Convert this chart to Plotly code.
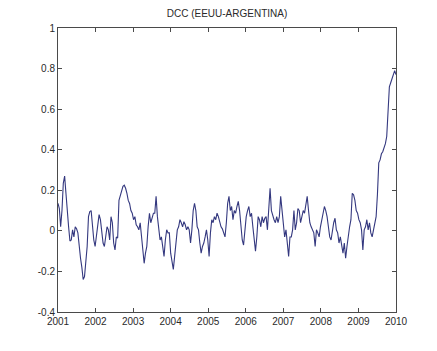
import pandas as pd
import plotly.graph_objects as go

title_text = "DCC (EEUU-ARGENTINA)"
start_date = "2001-01-01"
end_date = "2010-01-01"

# DCC values, roughly every two weeks
dcc_2001_2005 = [
    0.136, 0.11, 0.02, 0.10, 0.235, 0.27, 0.185, 0.087, 0.02, -0.05,
    -0.045, 0.005, -0.03, 0.02, 0.01, -0.01, -0.085, -0.135, -0.18, -0.24,
    -0.225, -0.16, -0.077, 0.07, 0.095, 0.10, 0.02, -0.045, -0.077, -0.03,
    0.02, 0.08, 0.055, 0.005, -0.06, -0.077, -0.03, 0.02, 0.005, -0.045,
    0.07, 0.04, -0.06, -0.094, -0.03, -0.035, 0.15, 0.17, 0.20, 0.22,
    0.225, 0.21, 0.185, 0.15, 0.135, 0.10, 0.087, 0.055, 0.07, 0.03,
    0.02, 0.005, 0.04, -0.03, -0.11, -0.16, -0.11, -0.077, 0.02, 0.087,
    0.04, 0.07, 0.087, 0.087, 0.17, 0.07, 0.005, -0.045, -0.03, -0.077,
    -0.126, -0.045, 0.005, -0.01, -0.01, -0.11, -0.16, -0.19, -0.126, -0.045,
    0.005, 0.02, 0.055, 0.04, 0.02, 0.045, 0.03, 0.005, 0.02, 0.005,
    -0.06, 0.005, 0.10, 0.136, 0.10, 0.02, 0.005, -0.06, -0.11, -0.077,
    -0.06, -0.03, 0.005, -0.045, -0.126, -0.01, 0.055, 0.04, 0.07, 0.055,
    0.087, 0.07, 0.04, 0.02, 0.01, -0.01, -0.03, 0.04, 0.136, 0.17,
    0.10, 0.12, 0.055, 0.10, 0.087, 0.12, 0.145,
]
dcc_2005_2010 = [
    0.10, 0.005, -0.045, -0.07, 0.02, 0.07, 0.10, 0.12, 0.07, 0.087,
    0.02, -0.045, -0.10, -0.03, 0.07, 0.055, 0.02, 0.07, 0.04, 0.062,
    0.07, 0.005, 0.087, 0.21, 0.10, 0.07, 0.055, 0.04, 0.07, 0.04,
    0.07, 0.17, 0.10, 0.04, -0.03, 0.005, -0.06, -0.126, -0.03, -0.03,
    0.005, 0.10, 0.005, 0.04, 0.11, 0.10, 0.04, 0.07, 0.10, 0.087,
    0.12, 0.17, 0.10, 0.04, 0.02, 0.005, -0.01, -0.077, 0.005, -0.01,
    -0.03, 0.02, 0.055, 0.087, 0.12, 0.10, 0.07, 0.02, -0.03, -0.045,
    0.005, 0.04, 0.062, 0.005, -0.01, -0.06, -0.03, -0.077, -0.11, -0.06,
    -0.135, -0.077, -0.01, 0.02, 0.055, 0.185, 0.178, 0.15, 0.10, 0.087,
    0.055, 0.04, 0.005, -0.094, 0.005, 0.02, 0.055, 0.005, 0.04, -0.01,
    -0.03, 0.005, 0.02, 0.07, 0.18, 0.335, 0.35, 0.38, 0.39, 0.41,
    0.43, 0.465, 0.58, 0.71, 0.73, 0.75, 0.77, 0.79, 0.77,
]
dcc = dcc_2001_2005 + dcc_2005_2010

year_ticks = ["2001", "2002", "2003", "2004", "2005",
              "2006", "2007", "2008", "2009", "2010"]
y_ticks = [-0.4, -0.2, 0, 0.2, 0.4, 0.6, 0.8, 1]
y_tick_labels = ["-0.4", "-0.2", "0", "0.2", "0.4", "0.6", "0.8", "1"]

dates = pd.date_range(start_date, end_date, periods=len(dcc))

fig = go.Figure()
fig.add_trace(go.Scatter(
    x=dates, y=dcc, mode="lines",
    line=dict(color="#34387f", width=1.1),
    hoverinfo="skip", showlegend=False,
))

font_family = "Liberation Sans, Arial, sans-serif"
axis_common = dict(
    showline=True, linecolor="#4a4a4a", linewidth=1, mirror="ticks",
    ticks="inside", ticklen=4, tickcolor="#4a4a4a", tickwidth=1,
    showgrid=False, zeroline=False,
    tickfont=dict(family=font_family, size=10, color="#2a2a2a"),
)

fig.update_layout(
    width=437, height=351,
    margin=dict(l=50, r=49, t=20, b=47),
    paper_bgcolor="white", plot_bgcolor="white",
    title=dict(text=title_text, x=0.5, xref="paper", xanchor="center",
               y=1 - 5 / 351, yref="container", yanchor="middle",
               font=dict(family=font_family, size=10, color="#2a2a2a")),
    xaxis=dict(
        type="date", range=[start_date, end_date],
        tickvals=[f"{y}-01-01" for y in year_ticks], ticktext=year_ticks,
        ticklabelstandoff=0,
        **axis_common,
    ),
    yaxis=dict(
        range=[-0.4, 1], tickvals=y_ticks, ticktext=y_tick_labels,
        **axis_common,
    ),
)

fig.write_html("out.html")
